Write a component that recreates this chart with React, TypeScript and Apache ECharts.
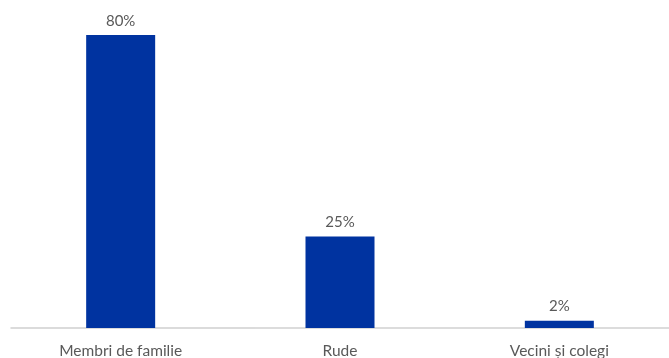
import React, { useEffect, useRef } from "react";
import * as echarts from "echarts";

const categories = ["Membri de familie", "Rude", "Vecini și colegi"];
const values = [80, 25, 2];

export default function App() {
  const ref = useRef<HTMLDivElement>(null);
  useEffect(() => {
    const chart = echarts.init(ref.current!, null, { renderer: "svg" });
    chart.setOption({
      animation: false,
      grid: { left: 11, right: 0, top: 35, bottom: 28 },
      xAxis: {
        type: "category",
        data: categories,
        axisLine: { lineStyle: { color: "#d0d0d0", width: 1.5 } },
        axisTick: { show: false },
        axisLabel: { color: "#595959", fontFamily: "Lato", fontSize: 15.5, margin: 14 },
      },
      yAxis: {
        type: "value",
        min: 0,
        max: 80,
        show: false,
        splitLine: { show: false },
      },
      series: [
        {
          type: "bar",
          data: values,
          barWidth: 69,
          itemStyle: { color: "#0033a0" },
          label: {
            show: true,
            position: "top",
            distance: 8,
            formatter: "{c}%",
            color: "#595959",
            fontFamily: "Lato",
            fontSize: 15,
          },
        },
      ],
    });
    return () => chart.dispose();
  }, []);
  return <div ref={ref} style={{ position: "fixed", left: 0, top: 0, width: 669, height: 358 }} />;
}
